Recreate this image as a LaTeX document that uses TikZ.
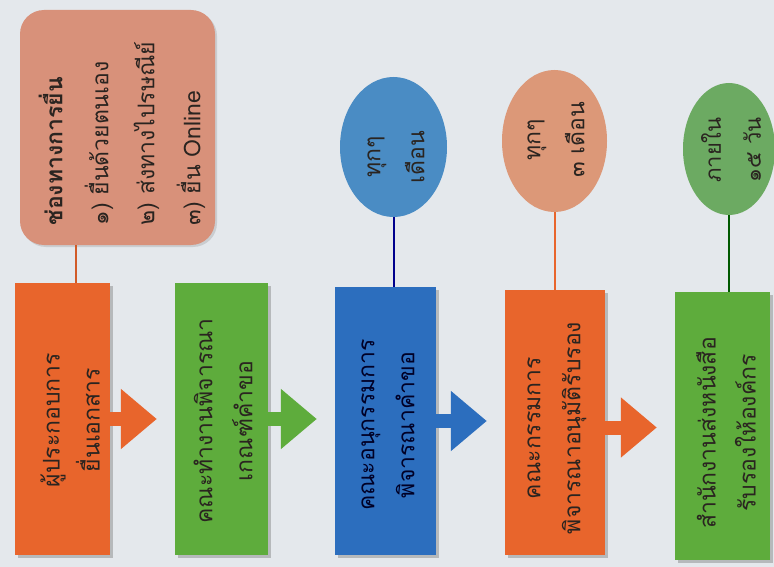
\documentclass[tikz,border=0pt]{standalone}
\usepackage{fontspec}
\newfontfamily\thai[Script=Thai]{Loma}
\usetikzlibrary{shapes.geometric,arrows.meta,shadows}
\definecolor{bg}{HTML}{E4E8EC}
\definecolor{orbox}{HTML}{E8652C}
\definecolor{grbox}{HTML}{5EAC3C}
\definecolor{blbox}{HTML}{2C6EBE}
\definecolor{salbox}{HTML}{D8917A}
\definecolor{blell}{HTML}{4A8CC4}
\definecolor{salell}{HTML}{DC9878}
\definecolor{grell}{HTML}{6CAA62}
\definecolor{txt}{HTML}{2A2420}
\begin{document}
\begin{tikzpicture}[x=1pt,y=-1pt,
  stepbox/.style={draw=none, minimum width=#1, inner sep=0pt,
    drop shadow={opacity=0.45, shadow xshift=3pt, shadow yshift=-3pt}},
  ovalbox/.style={ellipse, draw=none, inner sep=0pt},
  lbl/.style={rotate=90, align=center, font=\thai\fontsize{23}{40}\selectfont, text=txt},
  elbl/.style={rotate=90, align=center, inner sep=0pt, font=\thai\fontsize{23}{44}\selectfont, text=txt},
  blockarrow/.style={line width=14pt, draw=#1, -{Triangle[width=58pt,length=36pt]}, shorten >=18pt},
  stem/.style={line width=2pt, draw=#1}
]
\useasboundingbox[fill=bg] (0,0) rectangle (774,567);

% top channels box
\node[draw=none, fill=salbox, rounded corners=24pt, minimum width=195pt, minimum height=235pt,
  drop shadow={opacity=0.25, shadow xshift=2pt, shadow yshift=-2pt}] (tb) at (117.5,127.5) {};
\node[rotate=90, align=left, anchor=west, font=\thai\fontsize{23}{46}\selectfont, text=txt] (tt) at (122,229)
  {\textbf{ช่องทางการยื่น}\\๑) ยื่นด้วยตนเอง\\๒) ส่งทางไปรษณีย์\\๓) ยื่น Online};

% step boxes
\node[stepbox=95pt, minimum height=272pt, fill=orbox] (b1) at (62.5,419) {};
\node[stepbox=93pt, minimum height=272pt, fill=grbox] (b2) at (221.5,419) {};
\node[stepbox=101pt, minimum height=268pt, fill=blbox] (b3) at (385.5,421) {};
\node[stepbox=100pt, minimum height=265pt, fill=orbox] (b4) at (555,422.5) {};
\node[stepbox=95pt, minimum height=268pt, fill=grbox] (b5) at (722.5,426) {};

\node[lbl] (t1) at (70,420) {ผู้ประกอบการ\\ยื่นเอกสาร};
\node[lbl] (t2) at (223,421) {คณะทำงานพิจารณา\\เกณฑ์คำขอ};
\node[lbl, text=black!85!blue] (t3) at (388,425) {คณะอนุกรรมการ\\พิจารณาคำขอ};
\node[lbl] (t4) at (557,428) {คณะกรรมการ\\พิจารณาอนุมัติรับรอง};
\node[lbl] (t5) at (726,433) {สำนักงานส่งหนังสือ\\รับรองให้องค์กร};

% ellipses
\node[ovalbox, fill=blell, minimum width=107pt, minimum height=140pt] (e1) at (393.5,147) {};
\node[ovalbox, fill=salell, minimum width=105pt, minimum height=142pt] (e2) at (554.5,141) {};
\node[ovalbox, fill=grell, minimum width=92pt, minimum height=132pt] (e3) at (729,149) {};

\node[elbl] (et1) at (396,157) {ทุกๆ\\เดือน};
\node[elbl] (et2) at (556,140) {ทุกๆ\\๓ เดือน};
\node[elbl, font=\thai\fontsize{22}{40}\selectfont] (et3) at (731,150) {ภายใน\\๑๕ วัน};

% stems
\coordinate (s0) at ([xshift=13pt]b1.north);
\draw[stem=orbox!90!black] (s0 |- tb.south) -- (s0);
\draw[stem=blue!55!black] (e1.south) -- (e1.south |- b3.north);
\draw[stem=orbox] (e2.south) -- (e2.south |- b4.north);
\draw[stem=green!35!black] (e3.south) -- (e3.south |- b5.north);

% block arrows
\draw[blockarrow=orbox] (b1.east) -- (b1.east -| b2.west);
\draw[blockarrow=grbox] (b2.east) -- (b2.east -| b3.west);
\draw[blockarrow=blbox] (b3.east) -- (b3.east -| b4.west);
\draw[blockarrow=orbox] ([yshift=-5pt]b4.east) -- ([yshift=-5pt]b4.east -| b5.west);
\end{tikzpicture}
\end{document}
